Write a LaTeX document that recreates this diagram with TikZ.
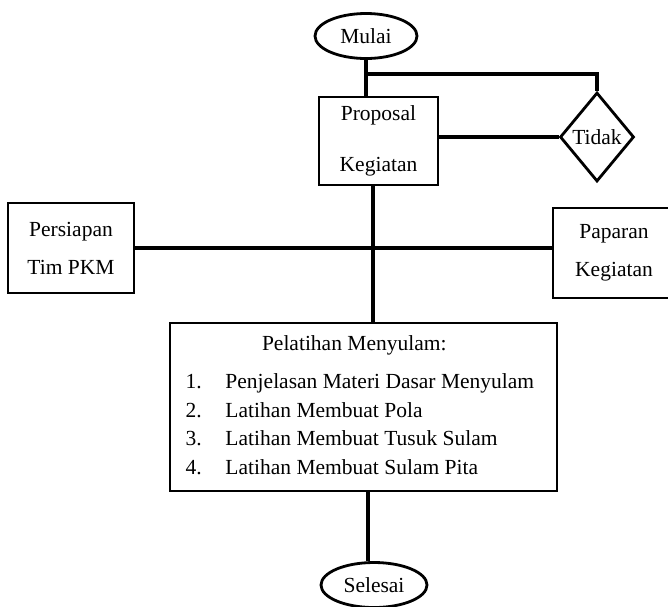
\documentclass[tikz,border=0pt]{standalone}
\usepackage{fontspec}
\setmainfont{Liberation Serif}
\usetikzlibrary{shapes.geometric,positioning,calc}

\begin{document}
\begin{tikzpicture}[x=1pt,y=-1pt,
    every node/.style={font=\fontsize{21.5}{38}\selectfont},
    kotak/.style={draw, line width=2.8pt, rectangle, inner sep=0pt, align=center},
    oval/.style={draw, line width=2.8pt, ellipse, inner sep=0pt},
    garis/.style={line width=4pt}]
    \useasboundingbox (0,0) rectangle (668,606);

    \node[oval, minimum width=102pt, minimum height=45pt]          (mulai) at (366,36) {Mulai};
    \node[kotak, minimum width=119pt, minimum height=88pt]         (proposal) at (378.5,141) {Proposal\\[13pt]Kegiatan};
    \node[draw, diamond, line width=2.8pt, inner sep=0pt,
          minimum width=74pt, minimum height=89pt]                 (tidak) at (597,137) {Tidak};
    \node[kotak, minimum width=126pt, minimum height=90pt]         (persiapan) at (71,248) {Persiapan\\Tim PKM};
    \node[kotak, minimum width=122pt, minimum height=90pt]         (paparan) at (614,253) {Paparan\\Kegiatan};
    \node[kotak, minimum width=387pt, minimum height=168pt]        (pelatihan) at (363.5,407)
        {\fontsize{21.5}{28.5}\selectfont
         \begin{tabular}{@{}p{40pt}@{}p{316pt}@{}}
         \multicolumn{2}{@{}l}{\hspace{76.5pt}Pelatihan Menyulam:}\\[9.5pt]
         1. & Penjelasan Materi Dasar Menyulam\\
         2. & Latihan Membuat Pola\\
         3. & Latihan Membuat Tusuk Sulam\\
         4. & Latihan Membuat Sulam Pita
         \end{tabular}};
    \node[oval, minimum width=106pt, minimum height=45pt]          (selesai) at (374,585) {Selesai};

    % garis penghubung
    \coordinate (cabang) at (366,74);
    \coordinate (turun) at ([xshift=-5.5pt]proposal.south);
    \coordinate (akhir) at ([xshift=4.5pt]pelatihan.south);
    \draw[garis] (mulai.south) -- (mulai.south |- proposal.north);
    \draw[garis] (cabang) -| (tidak.north);
    \draw[garis] (proposal.east |- tidak.west) -- (tidak.west);
    \draw[garis] (turun) -- (turun |- pelatihan.north);
    \draw[garis] (persiapan.east) -- (persiapan.east -| paparan.west);
    \draw[garis] (akhir) -- (akhir |- selesai.north);
\end{tikzpicture}
\end{document}
